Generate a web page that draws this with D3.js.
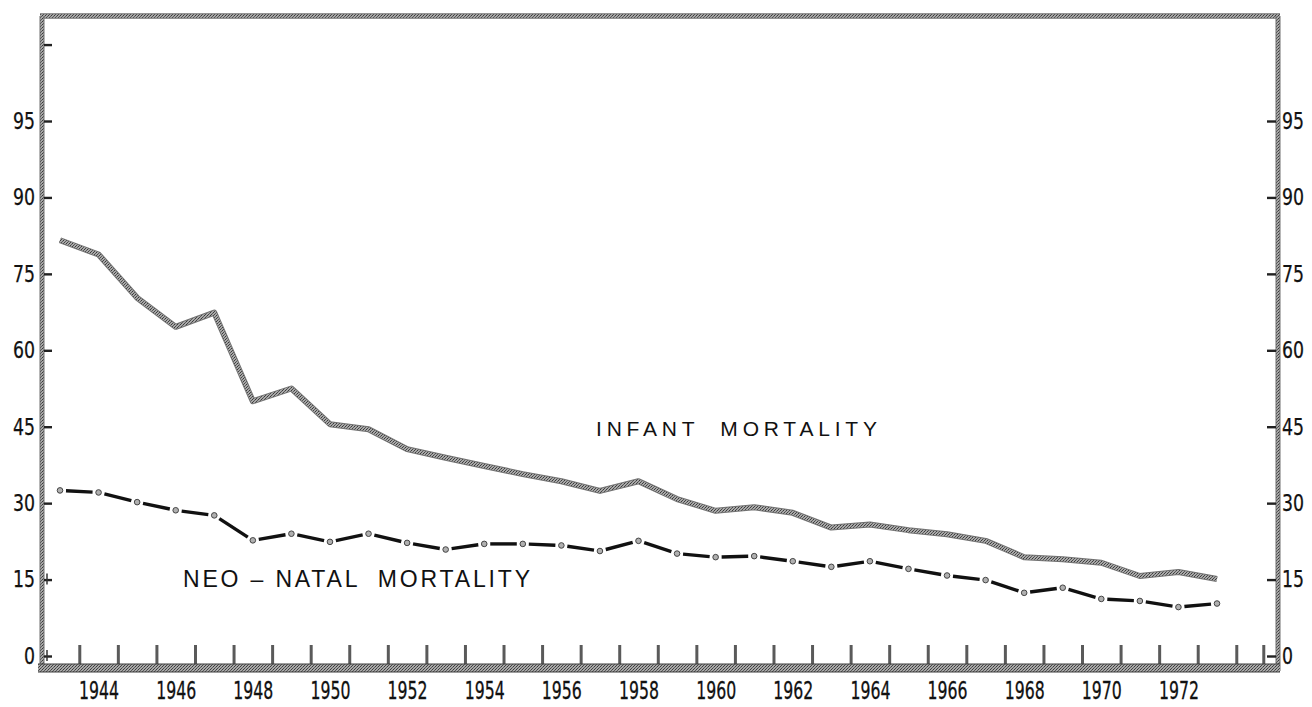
<!DOCTYPE html>
<html><head><meta charset="utf-8">
<script src="https://cdn.jsdelivr.net/npm/d3@7"></script>
<style>html,body{margin:0;padding:0;background:#fff;}svg{display:block;}</style>
</head><body><svg id="c" width="1312" height="707"></svg>
<script>
// ---- data ----
const years = [1943,1944,1945,1946,1947,1948,1949,1950,1951,1952,1953,1954,1955,1956,1957,1958,
               1959,1960,1961,1962,1963,1964,1965,1966,1967,1968,1969,1970,1971,1972,1973];
const infantMortality = [81.6,78.8,70.3,64.6,67.4,50.0,52.5,45.5,44.5,40.6,38.9,37.3,35.7,34.3,32.4,34.3,
                         30.8,28.5,29.2,28.1,25.2,25.8,24.7,23.9,22.6,19.4,19.0,18.3,15.7,16.5,15.1];
const neoNatalMortality = [32.5,32.1,30.2,28.6,27.6,22.7,24.0,22.4,24.0,22.2,20.9,22.0,22.0,21.7,20.6,22.6,
                           20.1,19.4,19.6,18.6,17.5,18.6,17.1,15.8,14.9,12.4,13.4,11.2,10.8,9.6,10.3];
const yearLabels = [1944,1946,1948,1950,1952,1954,1956,1958,1960,1962,1964,1966,1968,1970,1972];
const yTickValues = [0,15,30,45,60,75,90,105,120];
const yTickLabels = ["0","15","30","45","60","75","90","95",""];
const seriesLabels = ["INFANT  MORTALITY","NEO – NATAL  MORTALITY"];

// ---- layout ----
const svg = d3.select("#c");
const L = 42, R = 1278, T = 16, B = 668;
const x = d3.scaleLinear().domain([1943,1973]).range([60,1217]);
const y = d3.scaleLinear().domain([0,105]).range([656,121]);
const FONT = "'Liberation Sans Narrow','DejaVu Sans Condensed',sans-serif";

const defs = svg.append("defs");
const pat = defs.append("pattern").attr("id","stip").attr("width",3).attr("height",3)
  .attr("patternUnits","userSpaceOnUse");
pat.append("rect").attr("width",3).attr("height",3).attr("fill","#a8a8a8");
pat.append("rect").attr("x",0).attr("y",0).attr("width",1).attr("height",1).attr("fill","#3a3a3a");
pat.append("rect").attr("x",2).attr("y",1).attr("width",1).attr("height",1).attr("fill","#5a5a5a");
pat.append("rect").attr("x",1).attr("y",2).attr("width",1).attr("height",1).attr("fill","#464646");

svg.append("rect").attr("width",1312).attr("height",707).attr("fill","#fff");

// frame
function band(x1,y1,x2,y2,w,dark){
  svg.append("line").attr("x1",x1).attr("y1",y1).attr("x2",x2).attr("y2",y2)
    .attr("stroke",dark||"#707070").attr("stroke-width",w+1);
  svg.append("line").attr("x1",x1).attr("y1",y1).attr("x2",x2).attr("y2",y2)
    .attr("stroke","url(#stip)").attr("stroke-width",w-1);
}
band(L-2,T,R+2,T,4.5);
band(L,T,L,B+3,4);
band(R,T,R,B+3,4);

// x ticks (year boundaries)
const xTickVals = d3.range(1943.5,1974,1).concat([1974.2]);
const xTicks = svg.append("g").attr("transform",`translate(0,${B-3})`)
  .call(d3.axisBottom(x).tickValues(xTickVals).tickSize(-20).tickFormat(""));
xTicks.select(".domain").remove();
xTicks.selectAll(".tick line").attr("stroke","#5a5a5a").attr("stroke-width",3);

band(L-4,B,R+2,B,8,"#3c3c3c");

// year labels
const xLab = svg.append("g").attr("transform",`translate(0,${B})`)
  .call(d3.axisBottom(x).tickValues(yearLabels).tickSize(0).tickPadding(13).tickFormat(d3.format("d")));
xLab.select(".domain").remove();
xLab.selectAll("text").attr("font-family",FONT)
  .attr("font-size",25).attr("fill","#111").attr("stroke","#111").attr("stroke-width",0.3)
  .attr("textLength",40).attr("lengthAdjust","spacingAndGlyphs");

// y axes
function styleY(g){
  g.select(".domain").remove();
  g.selectAll(".tick line").attr("stroke","#222").attr("stroke-width",2.4);
  g.selectAll("text").attr("font-family",FONT)
    .attr("font-size",23).attr("fill","#111").attr("stroke","#111").attr("stroke-width",0.25)
    .attr("textLength",d=>{const s=yTickLabels[yTickValues.indexOf(d)];return s.length?s.length*11:null;})
    .attr("lengthAdjust","spacingAndGlyphs");
}
const fmt = d => yTickLabels[yTickValues.indexOf(d)];
svg.append("g").attr("transform",`translate(${L+2},0)`)
  .call(d3.axisLeft(y).tickValues(yTickValues).tickSize(-8).tickPadding(9).tickFormat(fmt)).call(styleY);
svg.append("g").attr("transform",`translate(${R-2},0)`)
  .call(d3.axisRight(y).tickValues(yTickValues.slice(0,8)).tickSize(-9).tickPadding(6).tickFormat(fmt)).call(styleY);
// small upright marks on the lowest left ticks (the "†" marks)
svg.append("g").selectAll("line").data([0,15]).join("line")
  .attr("x1",L+5).attr("x2",L+5).attr("y1",d=>y(d)-6).attr("y2",d=>y(d)+5)
  .attr("stroke","#333").attr("stroke-width",1.5);

// infant mortality line
const pts = years.map((yr,i)=>[x(yr), y(infantMortality[i])]);
const line = d3.line();
svg.append("path").attr("d",line(pts)).attr("fill","none").attr("stroke","#727272")
  .attr("stroke-width",6).attr("stroke-linejoin","round").attr("stroke-linecap","butt");
svg.append("path").attr("d",line(pts)).attr("fill","none").attr("stroke","url(#stip)")
  .attr("stroke-width",4).attr("stroke-linejoin","round").attr("stroke-linecap","butt");

// neo-natal line: dashes between dotted points
const npts = years.map((yr,i)=>[x(yr), y(neoNatalMortality[i])]);
const gap = 6;
const segs = d3.pairs(npts).map(([a,b])=>{
  const dx=b[0]-a[0], dy=b[1]-a[1], len=Math.hypot(dx,dy);
  const ux=dx/len, uy=dy/len;
  return [a[0]+ux*gap, a[1]+uy*gap, b[0]-ux*gap, b[1]-uy*gap];
});
svg.append("g").selectAll("line").data(segs).join("line")
  .attr("x1",d=>d[0]).attr("y1",d=>d[1]).attr("x2",d=>d[2]).attr("y2",d=>d[3])
  .attr("stroke","#111").attr("stroke-width",3.4);
svg.append("g").selectAll("circle").data(npts).join("circle")
  .attr("cx",d=>d[0]).attr("cy",d=>d[1]).attr("r",2.8)
  .attr("fill","#b0b0b0").attr("stroke","#444").attr("stroke-width",1);

// series labels
svg.append("text").attr("x",596).attr("y",y(45)+9).text(seriesLabels[0])
  .attr("font-family","'Liberation Sans','DejaVu Sans',sans-serif").attr("font-size",21)
  .attr("fill","#111").attr("textLength",281).attr("lengthAdjust","spacing").style("white-space","pre");
svg.append("text").attr("x",183).attr("y",587).text(seriesLabels[1])
  .attr("font-family","'Liberation Sans','DejaVu Sans',sans-serif").attr("font-size",23)
  .attr("fill","#111").attr("textLength",347).attr("lengthAdjust","spacing").style("white-space","pre");
</script></body></html>
